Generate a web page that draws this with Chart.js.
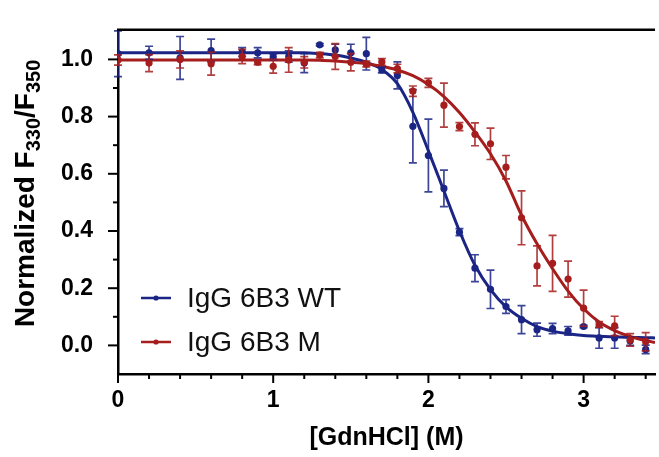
<!DOCTYPE html>
<html><head><meta charset="utf-8">
<script src="https://cdn.jsdelivr.net/npm/chart.js@4/dist/chart.umd.min.js"></script>
<style>html,body{margin:0;padding:0;background:#fff}#wrap{width:659px;height:457px;position:relative}</style>
</head><body><div id="wrap"><canvas id="c"></canvas></div>
<script>
// ---- data ----
const seriesNames = ['IgG 6B3 WT', 'IgG 6B3 M'];
const concentrations = [0,0.2,0.4,0.6,0.8,0.9,1.0,1.1,1.2,1.3,1.4,1.5,1.6,1.7,1.8,1.9,2.0,2.1,2.2,2.3,2.4,2.5,2.6,2.7,2.8,2.9,3.0,3.1,3.2,3.3,3.4];
const wtValues = [1.02,1.023,1.005,1.031,1.026,1.023,1.009,1.01,0.987,1.051,1.033,1.023,1.02,0.963,0.944,0.766,0.664,0.549,0.396,0.27,0.196,0.136,0.09,0.055,0.059,0.051,0.066,0.026,0.026,0.015,-0.014];
const wtErrors = [0.08,0.023,0.075,0.04,0.015,0.018,0.01,0.02,0.033,0.004,0.02,0.03,0.057,0.01,0.047,0.128,0.127,0.064,0.012,0.047,0.067,0.024,0.049,0.023,0.018,0.015,0.004,0.036,0.036,0.015,0.015];
const mValues = [0.998,0.987,1.0,0.985,1.01,0.99,0.976,0.998,0.99,1.015,1.01,0.99,0.984,0.991,0.968,0.889,0.918,0.84,0.765,0.738,0.705,0.623,0.446,0.278,0.287,0.232,0.13,0.073,0.068,0.019,0.013];
const mErrors = [0.018,0.03,0.03,0.04,0.025,0.008,0.024,0.043,0.02,0.01,0.045,0.03,0.01,0.012,0.015,0.018,0.016,0.077,0.014,0.04,0.055,0.041,0.094,0.07,0.098,0.063,0.063,0.01,0.034,0.022,0.032];
// fitted curves
const curveX = [0,0.1,0.2,0.3,0.4,0.5,0.6,0.7,0.8,0.9,1.0,1.1,1.2,1.3,1.4,1.5,1.6,1.7,1.8,1.9,2.0,2.1,2.2,2.3,2.4,2.5,2.6,2.7,2.8,2.9,3.0,3.1,3.2,3.3,3.4,3.46];
const wtCurve = [1.023,1.023,1.023,1.023,1.023,1.023,1.023,1.023,1.023,1.023,1.023,1.023,1.023,1.02,1.015,1.005,0.99,0.965,0.915,0.815,0.68,0.54,0.40,0.28,0.195,0.135,0.095,0.066,0.05,0.041,0.035,0.032,0.03,0.028,0.027,0.026];
const mCurve = [0.998,0.998,0.998,0.998,0.998,0.998,0.998,0.998,0.998,0.998,0.998,0.998,0.998,0.997,0.994,0.99,0.985,0.976,0.963,0.943,0.912,0.87,0.814,0.746,0.67,0.575,0.455,0.355,0.268,0.19,0.128,0.082,0.052,0.031,0.017,0.01];
const xMajorTicks = [0,1,2,3];
const xMinorTicks = [0.2,0.4,0.6,0.8,1.2,1.4,1.6,1.8,2.2,2.4,2.6,2.8,3.2,3.4];
const yMajorTicks = [0,0.2,0.4,0.6,0.8,1.0];
const yMinorTicks = [0.1,0.3,0.5,0.7,0.9];
const xRange = [0, 3.46];
const yRange = [-0.1, 1.1];

const BLUE = '#1b2585';
const RED = '#a51d1d';
const FONT = '"Liberation Sans", Arial, sans-serif';
Chart.defaults.font.family = FONT;

const pts = (xs, ys) => xs.map((x, i) => ({x, y: ys[i]}));

const errorBars = {
  id: 'errorBars',
  beforeDatasetDraw(chart, args) {
    const ds = chart.data.datasets[args.index];
    if (!ds.errors) return;
    const xs = chart.scales.x, ys = chart.scales.y, ctx = chart.ctx;
    ctx.save();
    ctx.strokeStyle = ds.errColor; ctx.lineWidth = 1.7;
    ds.data.forEach((p, i) => {
      const e = ds.errors[i]; if (!e) return;
      const px = xs.getPixelForValue(p.x);
      const y1 = ys.getPixelForValue(p.y + e), y2 = ys.getPixelForValue(p.y - e);
      ctx.beginPath();
      ctx.moveTo(px, y1); ctx.lineTo(px, y2);
      ctx.moveTo(px - 4, y1); ctx.lineTo(px + 4, y1);
      ctx.moveTo(px - 4, y2); ctx.lineTo(px + 4, y2);
      ctx.stroke();
    });
    ctx.restore();
  }
};

const decor = {
  id: 'decor',
  afterDraw(chart) {
    const ctx = chart.ctx, a = chart.chartArea, xs = chart.scales.x, ys = chart.scales.y;
    ctx.save();
    ctx.strokeStyle = '#000'; ctx.lineWidth = 2.5;
    // top frame line
    ctx.beginPath(); ctx.moveTo(a.left - 1, a.top - 1); ctx.lineTo(a.right, a.top - 1); ctx.stroke();
    // ticks
    ctx.lineWidth = 2;
    xMajorTicks.forEach(v => { const p = xs.getPixelForValue(v); ctx.beginPath(); ctx.moveTo(p, a.bottom); ctx.lineTo(p, a.bottom + 9); ctx.stroke(); });
    xMinorTicks.forEach(v => { const p = xs.getPixelForValue(v); ctx.beginPath(); ctx.moveTo(p, a.bottom); ctx.lineTo(p, a.bottom + 5); ctx.stroke(); });
    yMajorTicks.forEach(v => { const p = ys.getPixelForValue(v); ctx.beginPath(); ctx.moveTo(a.left, p); ctx.lineTo(a.left - 10, p); ctx.stroke(); });
    yMinorTicks.forEach(v => { const p = ys.getPixelForValue(v); ctx.beginPath(); ctx.moveTo(a.left, p); ctx.lineTo(a.left - 5, p); ctx.stroke(); });
    // y title with subscripts
    ctx.fillStyle = '#000';
    const parts = [['Normalized F', 28, 0], ['330', 20, 6], ['/F', 28, 0], ['350', 20, 6]];
    let total = 0;
    parts.forEach(pt => { ctx.font = 'bold ' + pt[1] + 'px ' + FONT; total += ctx.measureText(pt[0]).width; });
    ctx.translate(34, (a.top + a.bottom) / 2 - 9);
    ctx.rotate(-Math.PI / 2);
    ctx.textBaseline = 'alphabetic'; ctx.textAlign = 'left';
    let cx = -total / 2;
    parts.forEach(pt => { ctx.font = 'bold ' + pt[1] + 'px ' + FONT; ctx.fillText(pt[0], cx, pt[2]); cx += ctx.measureText(pt[0]).width; });
    ctx.restore();
    // legend
    ctx.save();
    const rows = [[seriesNames[0], BLUE, 0], [seriesNames[1], RED, 44]];
    rows.forEach(r => {
      const y = a.bottom - 76 + r[2];
      const x0 = a.left + 23;
      ctx.strokeStyle = r[1]; ctx.fillStyle = r[1]; ctx.lineWidth = 2.5;
      ctx.beginPath(); ctx.moveTo(x0, y); ctx.lineTo(x0 + 30, y); ctx.stroke();
      ctx.beginPath(); ctx.arc(x0 + 15, y, 2.6, 0, Math.PI * 2); ctx.fill();
      ctx.fillStyle = '#111'; ctx.font = '28px ' + FONT; ctx.textBaseline = 'middle';
      ctx.fillText(r[0], x0 + 46, y + 1);
    });
    ctx.restore();
  }
};

new Chart(document.getElementById('c'), {
  type: 'scatter',
  data: {
    datasets: [
      { label: seriesNames[1] + ' points', data: pts(concentrations, mValues), errors: mErrors, errColor: 'rgba(165,29,29,0.85)',
        backgroundColor: RED, borderWidth: 0, pointRadius: 3.6, order: 1 },
      { label: seriesNames[0] + ' points', data: pts(concentrations, wtValues), errors: wtErrors, errColor: 'rgba(27,37,133,0.85)',
        backgroundColor: BLUE, borderWidth: 0, pointRadius: 3.6, order: 2 },
      { label: seriesNames[1] + ' fit', data: pts(curveX, mCurve), showLine: true, borderColor: RED, borderWidth: 3,
        pointRadius: 0, cubicInterpolationMode: 'monotone', order: 3 },
      { label: seriesNames[0] + ' fit', data: pts(curveX, wtCurve), showLine: true, borderColor: BLUE, borderWidth: 3,
        pointRadius: 0, cubicInterpolationMode: 'monotone', order: 4 }
    ]
  },
  options: {
    responsive: true, maintainAspectRatio: false, animation: false,
    layout: { padding: { top: 10, right: 0, left: 0, bottom: 0 } },
    plugins: { legend: { display: false }, tooltip: { enabled: false } },
    scales: {
      x: {
        type: 'linear', min: xRange[0], max: xRange[1],
        afterBuildTicks: s => { s.ticks = xMajorTicks.map(v => ({ value: v })); },
        afterFit: s => { s.height = 83; },
        grid: { display: false },
        border: { display: true, color: '#000', width: 2.5 },
        ticks: { color: '#000', font: { size: 23, weight: 'bold' }, padding: 5, maxRotation: 0, callback: v => String(v) },
        title: { display: true, text: '[GdnHCl] (M)', color: '#000', font: { size: 25, weight: 'bold' }, padding: { top: 8 } }
      },
      y: {
        type: 'linear', min: yRange[0], max: yRange[1],
        afterBuildTicks: s => { s.ticks = yMajorTicks.map(v => ({ value: v })); },
        afterFit: s => { s.width = 118; },
        grid: { display: false },
        border: { display: true, color: '#000', width: 2.5 },
        ticks: { color: '#000', font: { size: 23, weight: 'bold' }, padding: 17, callback: v => Number(v).toFixed(1) }
      }
    }
  },
  plugins: [errorBars, decor]
});
</script>
</body></html>
